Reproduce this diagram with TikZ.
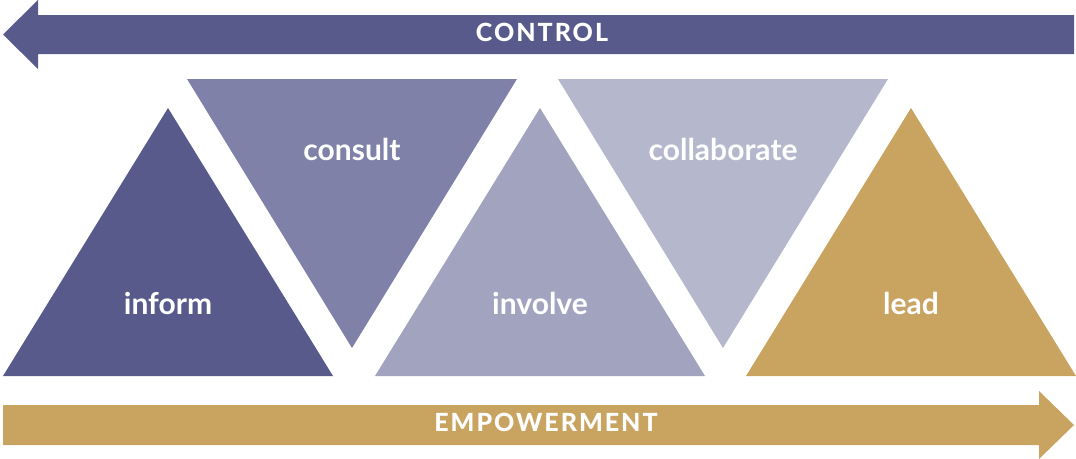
\documentclass[tikz,border=0pt]{standalone}
\usepackage{fontspec}
\setmainfont{Lato}[UprightFont=* Bold]
\newfontfamily\capsfont{Lato}[UprightFont=* Heavy, LetterSpace=8]
\definecolor{cInform}{HTML}{585A8C}
\definecolor{cConsult}{HTML}{7F81A8}
\definecolor{cInvolve}{HTML}{A2A3BF}
\definecolor{cCollab}{HTML}{B5B7CD}
\definecolor{cLead}{HTML}{C9A461}
\begin{document}
\begin{tikzpicture}[x=1pt,y=-1pt,
  lbl/.style={text=white,font=\fontsize{30}{30}\selectfont,inner sep=0pt,anchor=base},
  capslbl/.style={text=white,font=\capsfont\fontsize{25}{25}\selectfont,inner sep=0pt,anchor=base}]
\useasboundingbox (0,0) rectangle (1076,458);
% control arrow
\fill[cInform] (1074,15) -- (38,15) -- (38,0) -- (3,34.5) -- (38,69) -- (38,54) -- (1074,54) -- cycle;
% empowerment arrow
\fill[cLead] (3,405) -- (1039,405) -- (1039,391) -- (1074,425) -- (1039,459) -- (1039,445) -- (3,445) -- cycle;
% up triangles
\fill[cInform] (3,376) -- (333,376) -- (168,108) -- cycle;
\fill[cInvolve] (375,376) -- (705,376) -- (540,108) -- cycle;
\fill[cLead] (746,376) -- (1076,376) -- (911,108) -- cycle;
% down triangles
\fill[cConsult] (187,79) -- (517,79) -- (352,348) -- cycle;
\fill[cCollab] (558,79) -- (888,79) -- (723,348) -- cycle;
% labels
\node[lbl] (inform) at (168,314) {inform};
\node[lbl] (involve) at (540,314) {involve};
\node[lbl] (lead) at (911,314) {lead};
\node[lbl] (consult) at (352,160) {consult};
\node[lbl] (collab) at (723,160) {collaborate};
\node[capslbl] (control) at (542,41) {CONTROL};
\node[capslbl] (empower) at (546,431) {EMPOWERMENT};
\end{tikzpicture}
\end{document}
